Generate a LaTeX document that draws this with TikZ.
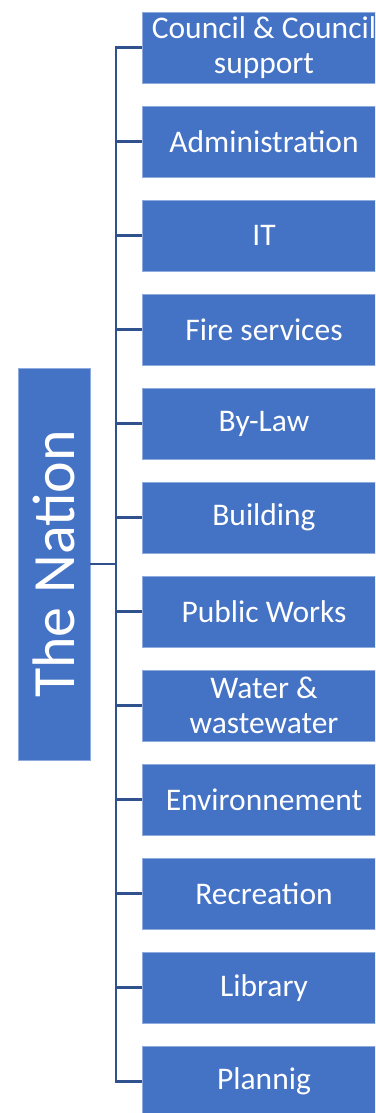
\documentclass[tikz,border=0pt]{standalone}
\usepackage{fontspec}
\setmainfont{Carlito}
\definecolor{boxfill}{HTML}{4472C4}
\definecolor{boxedge}{HTML}{8FAADC}
\definecolor{linkcol}{HTML}{2F528F}
\tikzset{
  dept/.style={draw=boxedge, line width=0.6pt, fill=boxfill, text=white,
    minimum width=244pt, minimum height=71.5pt, inner sep=0pt, align=center,
    font=\fontsize{31.5}{35}\selectfont},
  root/.style={draw=boxedge, line width=0.6pt, fill=boxfill, text=white,
    minimum width=72pt, minimum height=392pt, inner sep=0pt,
    font=\fontsize{60}{66}\selectfont},
  link/.style={draw=linkcol, line width=2.7pt}
}
\begin{document}
\begin{tikzpicture}[x=1pt,y=-1pt]
\useasboundingbox (0,0) rectangle (375,1113);
\clip (0,0) rectangle (375,1113);
\fill[white] (0,0) rectangle (375,1113);
\node[root] (nation) at (54,564) {\rotatebox{90}{The Nation}};
\node[dept] (d1) at (264,47.75) {Council \& Council\\support};
\node[dept] (d2) at (264,141.75) {Administration};
\node[dept] (d3) at (264,235.75) {IT};
\node[dept] (d4) at (264,329.75) {Fire services};
\node[dept] (d5) at (264,423.75) {By-Law};
\node[dept] (d6) at (264,517.75) {Building};
\node[dept] (d7) at (264,611.75) {Public Works};
\node[dept] (d8) at (264,705.75) {Water \&\\wastewater};
\node[dept] (d9) at (264,799.75) {Environnement};
\node[dept] (d10) at (264,893.75) {Recreation};
\node[dept] (d11) at (264,987.75) {Library};
\node[dept] (d12) at (264,1081.75) {Plannig};
\coordinate (top) at (116,47.75);
\coordinate (bot) at (116,1081.75);
\coordinate (mid) at (116,564);
\draw[link] (nation.east |- mid) -- (mid);
\draw[link, line cap=rect] (top) -- (bot);
\foreach \i in {1,...,12} {
  \draw[link] (116,0 |- d\i.west) -- (d\i.west);
}
\end{tikzpicture}
\end{document}
